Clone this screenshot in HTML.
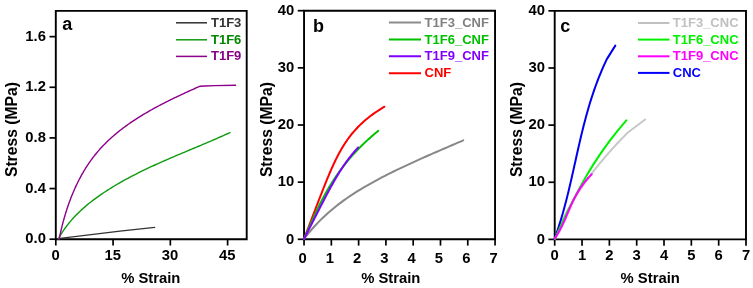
<!DOCTYPE html><html><head><meta charset="utf-8"><style>html,body{margin:0;padding:0;background:#fff;}svg{display:block;will-change:transform;}</style></head><body>
<svg width="753" height="288" viewBox="0 0 753 288" font-family='"Liberation Sans", sans-serif' font-weight="bold">
<rect width="753" height="288" fill="#fff"/>
<path d="M55.80,10.90 H246.70 V239.20 H55.80 Z" fill="none" stroke="#000" stroke-width="1.90" stroke-linejoin="miter"/>
<line x1="49.50" y1="239.20" x2="55.80" y2="239.20" stroke="#000" stroke-width="1.70"/>
<text x="45.90" y="243.40" font-size="14.80" text-anchor="end">0.0</text>
<line x1="49.50" y1="188.56" x2="55.80" y2="188.56" stroke="#000" stroke-width="1.70"/>
<text x="45.90" y="192.76" font-size="14.80" text-anchor="end">0.4</text>
<line x1="49.50" y1="137.92" x2="55.80" y2="137.92" stroke="#000" stroke-width="1.70"/>
<text x="45.90" y="142.12" font-size="14.80" text-anchor="end">0.8</text>
<line x1="49.50" y1="87.28" x2="55.80" y2="87.28" stroke="#000" stroke-width="1.70"/>
<text x="45.90" y="91.48" font-size="14.80" text-anchor="end">1.2</text>
<line x1="49.50" y1="36.64" x2="55.80" y2="36.64" stroke="#000" stroke-width="1.70"/>
<text x="45.90" y="40.84" font-size="14.80" text-anchor="end">1.6</text>
<line x1="55.80" y1="239.20" x2="55.80" y2="245.50" stroke="#000" stroke-width="1.70"/>
<text x="55.50" y="260.20" font-size="14.80" text-anchor="middle">0</text>
<line x1="113.07" y1="239.20" x2="113.07" y2="245.50" stroke="#000" stroke-width="1.70"/>
<text x="112.77" y="260.20" font-size="14.80" text-anchor="middle">15</text>
<line x1="170.34" y1="239.20" x2="170.34" y2="245.50" stroke="#000" stroke-width="1.70"/>
<text x="170.04" y="260.20" font-size="14.80" text-anchor="middle">30</text>
<line x1="227.61" y1="239.20" x2="227.61" y2="245.50" stroke="#000" stroke-width="1.70"/>
<text x="227.31" y="260.20" font-size="14.80" text-anchor="middle">45</text>
<text x="150.75" y="283.3" font-size="14.8" text-anchor="middle">% Strain</text>
<text transform="translate(16.70,129.55) rotate(-90)" font-size="15.70" text-anchor="middle">Stress (MPa)</text>
<text x="62.20" y="29.50" font-size="18">a</text>
<path d="M304.05,10.70 H495.05 V239.30 H304.05 Z" fill="none" stroke="#000" stroke-width="1.90" stroke-linejoin="miter"/>
<line x1="297.75" y1="239.30" x2="304.05" y2="239.30" stroke="#000" stroke-width="1.70"/>
<text x="294.20" y="243.50" font-size="14.80" text-anchor="end">0</text>
<line x1="297.75" y1="182.15" x2="304.05" y2="182.15" stroke="#000" stroke-width="1.70"/>
<text x="294.20" y="186.35" font-size="14.80" text-anchor="end">10</text>
<line x1="297.75" y1="125.00" x2="304.05" y2="125.00" stroke="#000" stroke-width="1.70"/>
<text x="294.20" y="129.20" font-size="14.80" text-anchor="end">20</text>
<line x1="297.75" y1="67.85" x2="304.05" y2="67.85" stroke="#000" stroke-width="1.70"/>
<text x="294.20" y="72.05" font-size="14.80" text-anchor="end">30</text>
<line x1="297.75" y1="10.70" x2="304.05" y2="10.70" stroke="#000" stroke-width="1.70"/>
<text x="294.20" y="14.90" font-size="14.80" text-anchor="end">40</text>
<line x1="304.05" y1="239.30" x2="304.05" y2="245.60" stroke="#000" stroke-width="1.70"/>
<text x="302.55" y="263.40" font-size="14.80" text-anchor="middle">0</text>
<line x1="331.34" y1="239.30" x2="331.34" y2="245.60" stroke="#000" stroke-width="1.70"/>
<text x="329.84" y="263.40" font-size="14.80" text-anchor="middle">1</text>
<line x1="358.62" y1="239.30" x2="358.62" y2="245.60" stroke="#000" stroke-width="1.70"/>
<text x="357.12" y="263.40" font-size="14.80" text-anchor="middle">2</text>
<line x1="385.91" y1="239.30" x2="385.91" y2="245.60" stroke="#000" stroke-width="1.70"/>
<text x="384.41" y="263.40" font-size="14.80" text-anchor="middle">3</text>
<line x1="413.19" y1="239.30" x2="413.19" y2="245.60" stroke="#000" stroke-width="1.70"/>
<text x="411.69" y="263.40" font-size="14.80" text-anchor="middle">4</text>
<line x1="440.48" y1="239.30" x2="440.48" y2="245.60" stroke="#000" stroke-width="1.70"/>
<text x="438.98" y="263.40" font-size="14.80" text-anchor="middle">5</text>
<line x1="467.76" y1="239.30" x2="467.76" y2="245.60" stroke="#000" stroke-width="1.70"/>
<text x="466.26" y="263.40" font-size="14.80" text-anchor="middle">6</text>
<line x1="495.05" y1="239.30" x2="495.05" y2="245.60" stroke="#000" stroke-width="1.70"/>
<text x="493.55" y="263.40" font-size="14.80" text-anchor="middle">7</text>
<text x="390.75" y="283.3" font-size="14.8" text-anchor="middle">% Strain</text>
<text transform="translate(271.50,129.60) rotate(-90)" font-size="15.70" text-anchor="middle">Stress (MPa)</text>
<text x="313.00" y="32.00" font-size="18">b</text>
<path d="M554.70,10.85 H746.00 V239.40 H554.70 Z" fill="none" stroke="#000" stroke-width="1.90" stroke-linejoin="miter"/>
<line x1="548.40" y1="239.40" x2="554.70" y2="239.40" stroke="#000" stroke-width="1.70"/>
<text x="545.00" y="243.60" font-size="14.80" text-anchor="end">0</text>
<line x1="548.40" y1="182.26" x2="554.70" y2="182.26" stroke="#000" stroke-width="1.70"/>
<text x="545.00" y="186.46" font-size="14.80" text-anchor="end">10</text>
<line x1="548.40" y1="125.12" x2="554.70" y2="125.12" stroke="#000" stroke-width="1.70"/>
<text x="545.00" y="129.32" font-size="14.80" text-anchor="end">20</text>
<line x1="548.40" y1="67.99" x2="554.70" y2="67.99" stroke="#000" stroke-width="1.70"/>
<text x="545.00" y="72.19" font-size="14.80" text-anchor="end">30</text>
<line x1="548.40" y1="10.85" x2="554.70" y2="10.85" stroke="#000" stroke-width="1.70"/>
<text x="545.00" y="15.05" font-size="14.80" text-anchor="end">40</text>
<line x1="554.70" y1="239.40" x2="554.70" y2="245.70" stroke="#000" stroke-width="1.70"/>
<text x="554.70" y="259.90" font-size="14.80" text-anchor="middle">0</text>
<line x1="582.03" y1="239.40" x2="582.03" y2="245.70" stroke="#000" stroke-width="1.70"/>
<text x="582.03" y="259.90" font-size="14.80" text-anchor="middle">1</text>
<line x1="609.36" y1="239.40" x2="609.36" y2="245.70" stroke="#000" stroke-width="1.70"/>
<text x="609.36" y="259.90" font-size="14.80" text-anchor="middle">2</text>
<line x1="636.69" y1="239.40" x2="636.69" y2="245.70" stroke="#000" stroke-width="1.70"/>
<text x="636.69" y="259.90" font-size="14.80" text-anchor="middle">3</text>
<line x1="664.01" y1="239.40" x2="664.01" y2="245.70" stroke="#000" stroke-width="1.70"/>
<text x="664.01" y="259.90" font-size="14.80" text-anchor="middle">4</text>
<line x1="691.34" y1="239.40" x2="691.34" y2="245.70" stroke="#000" stroke-width="1.70"/>
<text x="691.34" y="259.90" font-size="14.80" text-anchor="middle">5</text>
<line x1="718.67" y1="239.40" x2="718.67" y2="245.70" stroke="#000" stroke-width="1.70"/>
<text x="718.67" y="259.90" font-size="14.80" text-anchor="middle">6</text>
<line x1="746.00" y1="239.40" x2="746.00" y2="245.70" stroke="#000" stroke-width="1.70"/>
<text x="746.00" y="259.90" font-size="14.80" text-anchor="middle">7</text>
<text x="650.20" y="283.3" font-size="14.8" text-anchor="middle">% Strain</text>
<text transform="translate(521.50,129.60) rotate(-90)" font-size="15.70" text-anchor="middle">Stress (MPa)</text>
<text x="560.30" y="31.90" font-size="18">c</text>
<line x1="176.00" y1="22.80" x2="207.00" y2="22.80" stroke="#303030" stroke-width="1.50"/>
<text x="211.00" y="27.10" font-size="13.00" fill="#333333">T1F3</text>
<line x1="176.00" y1="39.80" x2="207.00" y2="39.80" stroke="#109a10" stroke-width="1.50"/>
<text x="211.00" y="43.70" font-size="13.00" fill="#008800">T1F6</text>
<line x1="176.00" y1="56.40" x2="207.00" y2="56.40" stroke="#8c008c" stroke-width="1.50"/>
<text x="211.00" y="60.30" font-size="13.00" fill="#880088">T1F9</text>
<line x1="388.90" y1="22.60" x2="421.00" y2="22.60" stroke="#8c8c8c" stroke-width="2.00"/>
<text x="424.60" y="27.10" font-size="13.00" fill="#808080">T1F3_CNF</text>
<line x1="388.90" y1="39.40" x2="421.00" y2="39.40" stroke="#00c000" stroke-width="2.00"/>
<text x="424.60" y="43.70" font-size="13.00" fill="#00c000">T1F6_CNF</text>
<line x1="388.90" y1="56.30" x2="421.00" y2="56.30" stroke="#8000ff" stroke-width="2.00"/>
<text x="424.60" y="60.40" font-size="13.00" fill="#8000ff">T1F9_CNF</text>
<line x1="388.90" y1="73.20" x2="421.00" y2="73.20" stroke="#ff0000" stroke-width="2.00"/>
<text x="424.60" y="77.00" font-size="13.00" fill="#ff0000">CNF</text>
<line x1="638.00" y1="23.00" x2="669.50" y2="23.00" stroke="#c0c0c0" stroke-width="2.00"/>
<text x="672.80" y="27.10" font-size="13.00" fill="#c0c0c0">T1F3_CNC</text>
<line x1="638.00" y1="39.60" x2="669.50" y2="39.60" stroke="#00f000" stroke-width="2.00"/>
<text x="672.80" y="43.70" font-size="13.00" fill="#00f000">T1F6_CNC</text>
<line x1="638.00" y1="56.30" x2="669.50" y2="56.30" stroke="#ff00ff" stroke-width="2.00"/>
<text x="672.80" y="60.40" font-size="13.00" fill="#ff00ff">T1F9_CNC</text>
<line x1="638.00" y1="72.90" x2="669.50" y2="72.90" stroke="#0000ff" stroke-width="2.00"/>
<text x="672.80" y="77.00" font-size="13.00" fill="#0000ff">CNC</text>
<path d="M58.00,238.70 L120.00,231.20 L154.70,227.30" fill="none" stroke="#333333" stroke-width="1.30" stroke-linecap="round" stroke-linejoin="round"/>
<path d="M58.26,239.01 L59.14,237.44 L60.04,235.90 L60.96,234.38 L61.90,232.88 L62.86,231.40 L63.84,229.95 L64.85,228.52 L65.87,227.11 L66.91,225.72 L67.98,224.35 L69.06,223.00 L70.15,221.67 L71.27,220.36 L72.40,219.07 L73.56,217.79 L74.72,216.54 L75.91,215.30 L77.10,214.08 L78.32,212.88 L79.55,211.69 L80.79,210.52 L82.05,209.37 L83.32,208.23 L84.60,207.11 L85.90,206.00 L87.20,204.90 L88.52,203.82 L89.85,202.75 L91.20,201.69 L92.55,200.65 L93.91,199.62 L95.29,198.60 L96.67,197.59 L98.06,196.59 L99.46,195.61 L100.86,194.63 L102.28,193.66 L103.70,192.71 L105.13,191.76 L106.57,190.82 L108.01,189.89 L109.46,188.97 L110.92,188.06 L112.38,187.16 L113.85,186.26 L115.33,185.38 L116.81,184.50 L118.30,183.63 L119.79,182.77 L121.29,181.92 L122.80,181.07 L124.31,180.23 L125.83,179.40 L127.35,178.57 L128.87,177.76 L130.40,176.95 L131.94,176.14 L133.48,175.34 L135.02,174.55 L136.57,173.77 L138.13,172.99 L139.68,172.21 L141.24,171.45 L142.81,170.68 L144.37,169.93 L145.95,169.17 L147.52,168.43 L149.10,167.69 L150.68,166.95 L152.26,166.22 L153.84,165.49 L155.43,164.76 L157.02,164.04 L158.61,163.33 L160.20,162.61 L161.80,161.91 L163.40,161.20 L164.99,160.50 L166.59,159.80 L168.20,159.10 L169.80,158.41 L171.40,157.72 L173.00,157.03 L174.61,156.35 L176.21,155.66 L177.82,154.98 L179.42,154.30 L181.03,153.62 L182.63,152.95 L184.24,152.27 L185.84,151.60 L187.45,150.93 L189.05,150.25 L190.65,149.58 L192.25,148.91 L193.85,148.24 L195.45,147.57 L197.05,146.90 L198.64,146.23 L200.23,145.56 L201.83,144.89 L203.42,144.22 L205.00,143.55 L206.59,142.88 L208.17,142.20 L209.75,141.53 L211.32,140.85 L212.90,140.18 L214.47,139.50 L216.04,138.82 L217.60,138.13 L219.16,137.45 L220.72,136.76 L222.27,136.07 L223.82,135.38 L225.36,134.68 L226.90,133.99 L228.44,133.29 L229.97,132.58" fill="none" stroke="#109a10" stroke-width="1.40" stroke-linecap="round" stroke-linejoin="round"/>
<path d="M59.11,239.29 L59.39,237.93 L59.67,236.57 L59.96,235.20 L60.26,233.84 L60.56,232.48 L60.87,231.12 L61.18,229.77 L61.50,228.41 L61.83,227.06 L62.17,225.70 L62.51,224.35 L62.86,223.00 L63.22,221.65 L63.58,220.31 L63.96,218.96 L64.34,217.62 L64.72,216.28 L65.12,214.94 L65.52,213.61 L65.93,212.28 L66.35,210.95 L66.77,209.62 L67.20,208.30 L67.64,206.98 L68.09,205.66 L68.55,204.35 L69.01,203.04 L69.49,201.74 L69.97,200.44 L70.46,199.14 L70.95,197.85 L71.46,196.56 L71.97,195.27 L72.50,193.99 L73.03,192.72 L73.57,191.45 L74.12,190.18 L74.67,188.92 L75.24,187.66 L75.81,186.41 L76.40,185.17 L76.99,183.93 L77.59,182.69 L78.20,181.46 L78.82,180.24 L79.45,179.02 L80.09,177.81 L80.74,176.60 L81.40,175.41 L82.07,174.21 L82.74,173.03 L83.43,171.85 L84.13,170.68 L84.83,169.51 L85.55,168.35 L86.28,167.20 L87.01,166.06 L87.76,164.92 L88.51,163.79 L89.28,162.67 L90.06,161.55 L90.84,160.45 L91.64,159.35 L92.45,158.26 L93.27,157.18 L94.10,156.11 L94.93,155.04 L95.78,153.98 L96.64,152.94 L97.52,151.90 L98.40,150.87 L99.29,149.85 L100.19,148.83 L101.11,147.83 L102.03,146.84 L102.97,145.85 L103.91,144.87 L104.86,143.90 L105.83,142.94 L106.80,141.99 L107.78,141.04 L108.77,140.11 L109.77,139.18 L110.78,138.26 L111.79,137.34 L112.82,136.44 L113.85,135.54 L114.89,134.65 L115.94,133.77 L117.00,132.89 L118.06,132.03 L119.14,131.16 L120.22,130.31 L121.30,129.47 L122.40,128.63 L123.50,127.80 L124.61,126.97 L125.72,126.15 L126.84,125.34 L127.97,124.54 L129.10,123.74 L130.24,122.95 L131.38,122.17 L132.53,121.39 L133.68,120.62 L134.85,119.85 L136.01,119.09 L137.18,118.34 L138.36,117.59 L139.54,116.85 L140.72,116.11 L141.91,115.39 L143.10,114.66 L144.30,113.94 L145.50,113.23 L146.70,112.53 L147.91,111.82 L149.12,111.13 L150.33,110.44 L151.55,109.75 L152.77,109.07 L154.00,108.40 L155.22,107.73 L156.45,107.06 L157.68,106.40 L158.91,105.75 L160.14,105.10 L161.38,104.45 L162.62,103.81 L163.86,103.17 L165.10,102.54 L166.34,101.91 L167.58,101.29 L168.82,100.67 L170.07,100.05 L171.31,99.44 L172.56,98.83 L173.80,98.23 L175.05,97.63 L176.29,97.03 L177.54,96.44 L178.78,95.85 L180.02,95.27 L181.27,94.68 L182.51,94.11 L183.75,93.53 L184.99,92.96 L186.23,92.39 L187.46,91.82 L188.70,91.26 L189.93,90.70 L191.16,90.14 L192.39,89.59 L193.62,89.04 L194.84,88.49 L196.06,87.94 L197.28,87.40 L198.50,86.86 L199.71,86.32 L205.00,86.00 L214.70,85.60 L235.60,85.30" fill="none" stroke="#8c008c" stroke-width="1.40" stroke-linecap="round" stroke-linejoin="round"/>
<path d="M304.00,239.00 L306.70,235.51 L309.40,232.19 L312.10,229.02 L314.80,226.00 L317.50,223.12 L320.19,220.36 L322.89,217.72 L325.59,215.18 L328.29,212.75 L330.99,210.41 L333.69,208.16 L336.39,205.99 L339.09,203.89 L341.79,201.87 L344.49,199.91 L347.19,198.01 L349.89,196.17 L352.58,194.37 L355.28,192.63 L357.98,190.93 L360.68,189.28 L363.38,187.66 L366.08,186.08 L368.78,184.53 L371.48,183.01 L374.18,181.52 L376.88,180.06 L379.58,178.63 L382.28,177.21 L384.97,175.82 L387.67,174.45 L390.37,173.10 L393.07,171.76 L395.77,170.44 L398.47,169.14 L401.17,167.85 L403.87,166.57 L406.57,165.30 L409.27,164.05 L411.97,162.81 L414.67,161.57 L417.36,160.35 L420.06,159.13 L422.76,157.92 L425.46,156.72 L428.16,155.52 L430.86,154.33 L433.56,153.15 L436.26,151.97 L438.96,150.80 L441.66,149.63 L444.36,148.46 L447.06,147.30 L449.75,146.14 L452.45,144.99 L455.15,143.84 L457.85,142.69 L460.55,141.55 L463.25,140.41" fill="none" stroke="#888888" stroke-width="2.00" stroke-linecap="round" stroke-linejoin="round"/>
<path d="M304.00,239.00 L304.64,237.33 L305.28,235.65 L305.92,233.98 L306.56,232.30 L307.20,230.63 L307.84,228.95 L308.48,227.28 L309.12,225.60 L309.76,223.93 L310.40,222.25 L311.04,220.58 L311.68,218.90 L312.32,217.23 L312.96,215.55 L313.60,213.88 L314.24,212.21 L314.88,210.53 L315.52,208.86 L316.16,207.18 L316.80,205.51 L317.45,203.83 L318.09,202.16 L318.74,200.48 L319.38,198.81 L320.03,197.13 L320.68,195.46 L321.33,193.78 L321.98,192.11 L322.64,190.43 L323.29,188.76 L323.95,187.08 L324.62,185.41 L325.29,183.74 L325.96,182.06 L326.64,180.39 L327.33,178.71 L328.02,177.04 L328.72,175.36 L329.42,173.69 L330.14,172.01 L330.86,170.34 L331.60,168.66 L332.35,166.99 L333.11,165.31 L333.88,163.64 L334.67,161.96 L335.48,160.29 L336.31,158.62 L337.15,156.94 L338.02,155.27 L338.91,153.59 L339.83,151.92 L340.77,150.24 L341.74,148.57 L342.75,146.89 L343.78,145.22 L344.86,143.54 L345.97,141.87 L347.12,140.19 L348.32,138.52 L349.57,136.84 L350.86,135.17 L352.21,133.49 L353.62,131.82 L355.09,130.15 L356.62,128.47 L358.22,126.80 L359.90,125.12 L361.65,123.45 L363.48,121.77 L365.40,120.10 L367.41,118.42 L369.52,116.75 L371.72,115.07 L374.04,113.40 L376.47,111.72 L379.01,110.05 L381.68,108.37 L384.48,106.70" fill="none" stroke="#ff0000" stroke-width="2.00" stroke-linecap="round" stroke-linejoin="round"/>
<path d="M304.00,239.00 L304.59,237.63 L305.19,236.26 L305.79,234.89 L306.38,233.52 L306.98,232.15 L307.58,230.78 L308.18,229.41 L308.78,228.04 L309.38,226.67 L309.99,225.30 L310.60,223.93 L311.21,222.56 L311.82,221.19 L312.44,219.83 L313.07,218.46 L313.69,217.09 L314.33,215.72 L314.96,214.35 L315.61,212.98 L316.25,211.61 L316.91,210.24 L317.57,208.87 L318.24,207.50 L318.91,206.13 L319.59,204.76 L320.28,203.39 L320.98,202.02 L321.69,200.65 L322.40,199.28 L323.13,197.91 L323.86,196.54 L324.61,195.17 L325.36,193.80 L326.13,192.43 L326.91,191.06 L327.70,189.69 L328.50,188.32 L329.31,186.95 L330.14,185.58 L330.98,184.22 L331.83,182.85 L332.70,181.48 L333.58,180.11 L334.47,178.74 L335.38,177.37 L336.31,176.00 L337.25,174.63 L338.21,173.26 L339.19,171.89 L340.18,170.52 L341.19,169.15 L342.22,167.78 L343.26,166.41 L344.33,165.04 L345.41,163.67 L346.52,162.30 L347.64,160.93 L348.79,159.56 L349.95,158.19 L351.14,156.82 L352.34,155.45 L353.57,154.08 L354.83,152.71 L356.10,151.34 L357.40,149.97 L358.72,148.61 L360.07,147.24 L361.44,145.87 L362.84,144.50 L364.26,143.13 L365.70,141.76 L367.18,140.39 L368.68,139.02 L370.21,137.65 L371.76,136.28 L373.34,134.91 L374.96,133.54 L376.60,132.17 L378.26,130.80" fill="none" stroke="#00c000" stroke-width="2.00" stroke-linecap="round" stroke-linejoin="round"/>
<path d="M304.00,239.00 L304.59,237.84 L305.18,236.68 L305.77,235.53 L306.36,234.37 L306.95,233.21 L307.54,232.05 L308.13,230.89 L308.71,229.73 L309.30,228.58 L309.89,227.42 L310.48,226.26 L311.07,225.10 L311.66,223.94 L312.25,222.78 L312.84,221.63 L313.43,220.47 L314.02,219.31 L314.61,218.15 L315.20,216.99 L315.79,215.84 L316.38,214.68 L316.97,213.52 L317.57,212.36 L318.16,211.20 L318.75,210.04 L319.35,208.89 L319.94,207.73 L320.53,206.57 L321.13,205.41 L321.73,204.25 L322.33,203.09 L322.93,201.94 L323.53,200.78 L324.13,199.62 L324.73,198.46 L325.34,197.30 L325.95,196.15 L326.56,194.99 L327.17,193.83 L327.79,192.67 L328.41,191.51 L329.03,190.35 L329.65,189.20 L330.28,188.04 L330.92,186.88 L331.55,185.72 L332.20,184.56 L332.84,183.41 L333.50,182.25 L334.15,181.09 L334.82,179.93 L335.49,178.77 L336.17,177.61 L336.85,176.46 L337.55,175.30 L338.25,174.14 L338.96,172.98 L339.68,171.82 L340.41,170.66 L341.15,169.51 L341.90,168.35 L342.66,167.19 L343.44,166.03 L344.23,164.87 L345.03,163.72 L345.84,162.56 L346.68,161.40 L347.52,160.24 L348.39,159.08 L349.27,157.92 L350.17,156.77 L351.08,155.61 L352.02,154.45 L352.98,153.29 L353.96,152.13 L354.97,150.97 L355.99,149.82 L357.05,148.66 L358.13,147.50" fill="none" stroke="#8000ff" stroke-width="2.00" stroke-linecap="round" stroke-linejoin="round"/>
<path d="M554.80,239.00 L555.27,237.66 L555.76,236.31 L556.26,234.97 L556.77,233.62 L557.30,232.28 L557.84,230.93 L558.40,229.59 L558.96,228.25 L559.54,226.90 L560.13,225.56 L560.74,224.21 L561.35,222.87 L561.98,221.52 L562.62,220.18 L563.27,218.84 L563.94,217.49 L564.61,216.15 L565.30,214.80 L566.00,213.46 L566.71,212.11 L567.43,210.77 L568.16,209.43 L568.90,208.08 L569.66,206.74 L570.42,205.39 L571.20,204.05 L571.99,202.70 L572.79,201.36 L573.60,200.02 L574.42,198.67 L575.25,197.33 L576.09,195.98 L576.95,194.64 L577.81,193.29 L578.69,191.95 L579.57,190.61 L580.47,189.26 L581.38,187.92 L582.30,186.57 L583.23,185.23 L584.17,183.88 L585.12,182.54 L586.08,181.19 L587.05,179.85 L588.03,178.51 L589.02,177.16 L590.03,175.82 L591.04,174.47 L592.06,173.13 L593.10,171.78 L594.14,170.44 L595.20,169.10 L596.26,167.75 L597.34,166.41 L598.42,165.06 L599.52,163.72 L600.63,162.37 L601.74,161.03 L602.87,159.69 L604.01,158.34 L605.15,157.00 L606.31,155.65 L607.48,154.31 L608.66,152.96 L609.85,151.62 L611.04,150.28 L612.25,148.93 L613.47,147.59 L614.70,146.24 L615.94,144.90 L617.19,143.55 L618.44,142.21 L619.71,140.87 L620.99,139.52 L622.28,138.18 L623.58,136.83 L624.89,135.49 L626.21,134.14 L627.54,132.80 L645.10,119.50" fill="none" stroke="#c8c8c8" stroke-width="2.00" stroke-linecap="round" stroke-linejoin="round"/>
<path d="M554.60,238.80 L555.90,235.14 L557.16,231.48 L558.37,227.82 L559.53,224.16 L560.66,220.49 L561.75,216.83 L562.81,213.17 L563.83,209.51 L564.82,205.85 L565.79,202.19 L566.73,198.53 L567.64,194.87 L568.54,191.20 L569.41,187.54 L570.27,183.88 L571.12,180.22 L571.96,176.56 L572.78,172.90 L573.60,169.24 L574.41,165.58 L575.23,161.91 L576.04,158.25 L576.85,154.59 L577.67,150.93 L578.50,147.27 L579.34,143.61 L580.19,139.95 L581.05,136.29 L581.93,132.62 L582.83,128.96 L583.75,125.30 L584.70,121.64 L585.67,117.98 L586.67,114.32 L587.70,110.66 L588.76,107.00 L589.86,103.33 L591.00,99.67 L592.18,96.01 L593.40,92.35 L594.66,88.69 L595.97,85.03 L597.34,81.37 L598.75,77.71 L600.22,74.04 L601.75,70.38 L603.33,66.72 L604.98,63.06 L606.69,59.40 L615.30,45.60" fill="none" stroke="#0000f0" stroke-width="2.00" stroke-linecap="round" stroke-linejoin="round"/>
<path d="M554.80,239.00 L555.48,237.50 L556.17,235.99 L556.85,234.49 L557.54,232.99 L558.22,231.49 L558.91,229.98 L559.60,228.48 L560.29,226.98 L560.98,225.48 L561.68,223.97 L562.38,222.47 L563.08,220.97 L563.78,219.47 L564.49,217.96 L565.20,216.46 L565.92,214.96 L566.64,213.46 L567.36,211.95 L568.09,210.45 L568.82,208.95 L569.55,207.45 L570.30,205.94 L571.04,204.44 L571.79,202.94 L572.55,201.44 L573.31,199.93 L574.08,198.43 L574.86,196.93 L575.64,195.43 L576.42,193.92 L577.22,192.42 L578.02,190.92 L578.82,189.42 L579.64,187.91 L580.46,186.41 L581.29,184.91 L582.13,183.41 L582.97,181.90 L583.82,180.40 L584.68,178.90 L585.55,177.40 L586.43,175.89 L587.32,174.39 L588.21,172.89 L589.12,171.39 L590.03,169.88 L590.95,168.38 L591.88,166.88 L592.83,165.38 L593.78,163.87 L594.74,162.37 L595.71,160.87 L596.70,159.37 L597.69,157.86 L598.69,156.36 L599.71,154.86 L600.73,153.36 L601.77,151.85 L602.82,150.35 L603.88,148.85 L604.95,147.35 L606.04,145.84 L607.13,144.34 L608.24,142.84 L609.36,141.34 L610.49,139.83 L611.64,138.33 L612.80,136.83 L613.97,135.33 L615.15,133.82 L616.35,132.32 L617.56,130.82 L618.79,129.32 L620.03,127.81 L621.28,126.31 L622.55,124.81 L623.83,123.31 L625.12,121.80 L626.43,120.30" fill="none" stroke="#00f000" stroke-width="2.00" stroke-linecap="round" stroke-linejoin="round"/>
<path d="M554.60,238.80 L555.49,237.48 L556.34,236.17 L557.16,234.85 L557.96,233.53 L558.72,232.22 L559.46,230.90 L560.17,229.59 L560.86,228.27 L561.53,226.95 L562.18,225.64 L562.81,224.32 L563.42,223.00 L564.03,221.69 L564.62,220.37 L565.20,219.06 L565.77,217.74 L566.33,216.42 L566.89,215.11 L567.45,213.79 L568.01,212.47 L568.57,211.16 L569.12,209.84 L569.69,208.52 L570.26,207.21 L570.84,205.89 L571.42,204.58 L572.02,203.26 L572.63,201.94 L573.26,200.63 L573.90,199.31 L574.57,197.99 L575.25,196.68 L575.96,195.36 L576.68,194.04 L577.44,192.73 L578.22,191.41 L579.04,190.10 L579.88,188.78 L580.76,187.46 L581.67,186.15 L582.62,184.83 L583.61,183.51 L584.63,182.20 L585.70,180.88 L586.82,179.57 L587.98,178.25 L589.18,176.93 L590.44,175.62 L591.75,174.30" fill="none" stroke="#ff00ff" stroke-width="2.00" stroke-linecap="round" stroke-linejoin="round"/>
</svg></body></html>
